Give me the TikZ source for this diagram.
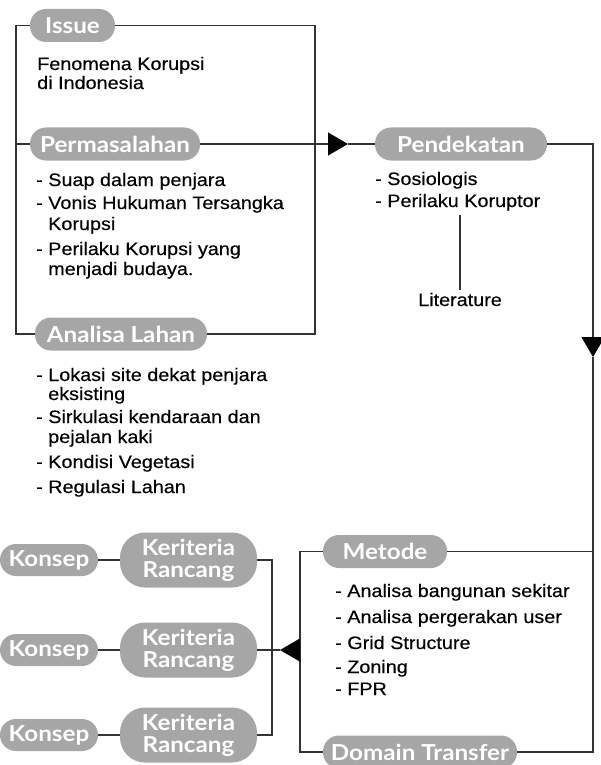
\documentclass[tikz,border=0pt]{standalone}
\usepackage{fontspec}
\setmainfont{Liberation Sans}[FakeStretch=1.1, FakeBold=0.3]
\newfontfamily\pillfont{Lato}[FakeStretch=1.1]
\usetikzlibrary{arrows.meta}
\definecolor{pillgray}{HTML}{A6A6A6}
\definecolor{linec}{HTML}{333333}
\tikzset{
  pill/.style={fill=pillgray, text=white, rounded corners=16pt, minimum height=33pt, inner sep=0pt,
    font=\pillfont\bfseries\fontsize{22}{22}\selectfont},
  pilltwo/.style={pill, rounded corners=25pt, minimum height=55pt, minimum width=137pt, align=center,
    font=\pillfont\bfseries\fontsize{22}{22}\selectfont},
  tx/.style={anchor=base west, inner sep=0pt, font=\fontsize{18}{19.5}\selectfont, text=black},
  ln/.style={draw=linec, line width=1.1pt},
  tip/.style={-{Triangle[length=20pt,width=23pt,color=black]}}
}
\begin{document}
\begin{tikzpicture}[x=1pt,y=-1pt]
\useasboundingbox (0,0) rectangle (601,765);
\clip (0,0) rectangle (601,765);
\fill[white] (0,0) rectangle (601,765);

% pills
\node[pill, minimum width=85pt]  (issue)   at (72.5,25.5) {Issue};
\node[pill, minimum width=170pt] (perm)    at (115,144)   {Permasalahan};
\node[pill, minimum width=172pt] (analisa) at (121,334)   {Analisa Lahan};
\node[pill, minimum width=172pt] (pend)    at (461,144)   {Pendekatan};
\node[pill, minimum width=124pt] (metode)  at (385,551.5) {Metode};
\node[pill, minimum width=194pt] (domain)  at (420,752)   {Domain Transfer};
\node[pill, minimum width=98pt, minimum height=32pt] (kon1) at (49,560) {Konsep};
\node[pill, minimum width=98pt, minimum height=32pt] (kon2) at (49,650) {Konsep};
\node[pill, minimum width=98pt, minimum height=32pt] (kon3) at (49,735) {Konsep};
\node[pilltwo] (ker1) at (188.5,560) {Keriteria\\Rancang};
\node[pilltwo] (ker2) at (188.5,650) {Keriteria\\Rancang};
\node[pilltwo] (ker3) at (188.5,735) {Keriteria\\Rancang};

% texts
\node[tx] (i1) at (37,70) {Fenomena Korupsi};
\node[tx] (i2) at (37,89) {di Indonesia};

\node[tx] (p1) at (36,186) {- Suap dalam penjara};
\node[tx] (p2) at (36,209) {- Vonis Hukuman Tersangka};
\node[tx] (p3) at (48,230) {Korupsi};
\node[tx] (p4) at (36,255) {- Perilaku Korupsi yang};
\node[tx] (p5) at (48,275) {menjadi budaya.};

\node[tx] (a1) at (36,381) {- Lokasi site dekat penjara};
\node[tx] (a2) at (48,400) {eksisting};
\node[tx] (a3) at (36,423) {- Sirkulasi kendaraan dan};
\node[tx] (a4) at (48,443) {pejalan kaki};
\node[tx] (a5) at (36,468) {- Kondisi Vegetasi};
\node[tx] (a6) at (36,493) {- Regulasi Lahan};

\node[tx] (d1) at (375,185) {- Sosiologis};
\node[tx] (d2) at (375,207) {- Perilaku Koruptor};
\node[tx, anchor=base] (lit) at (460,306) {Literature};

\node[tx] (m1) at (335,597) {- Analisa bangunan sekitar};
\node[tx] (m2) at (335,623) {- Analisa pergerakan user};
\node[tx] (m3) at (335,649) {- Grid Structure};
\node[tx] (m4) at (335,673) {- Zoning};
\node[tx] (m5) at (335,695) {- FPR};

% connectors
\coordinate (tipA) at (348,144);
\coordinate (tipB) at (593,357);
\coordinate (mleft) at (300,650);
\coordinate (tipC) at (280,650);
\coordinate (jn) at (272,650);

\draw[ln] (issue.west) -| (16,334) -- (analisa.west);
\draw[ln] (issue.east) -| (315,334) -- (analisa.east);
\draw[ln] (perm.west) -- ++(-14,0);
\draw[ln,tip] (perm.east) -- (tipA);
\draw[ln] (tipA) -- (pend.west);

\draw[ln,tip] (pend.east) -| (tipB);
\draw[ln] (tipB) |- (domain.east);
\draw[ln] (metode.east) -- (metode.east -| tipB);
\draw[ln] (metode.west) -| (300,752) -- (domain.west);
\draw[ln,tip] (mleft) -- (tipC);
\draw[ln] (tipC) -- (jn);
\draw[ln] (ker1.east) -| (jn) |- (ker3.east);
\draw[ln] (ker2.east) -- (jn);
\draw[ln] (kon1.east) -- (ker1.west);
\draw[ln] (kon2.east) -- (ker2.west);
\draw[ln] (kon3.east) -- (ker3.west);
\draw[ln, shorten <=4pt, shorten >=3pt] (lit.north |- d2.south) -- (lit.north);
\end{tikzpicture}
\end{document}
